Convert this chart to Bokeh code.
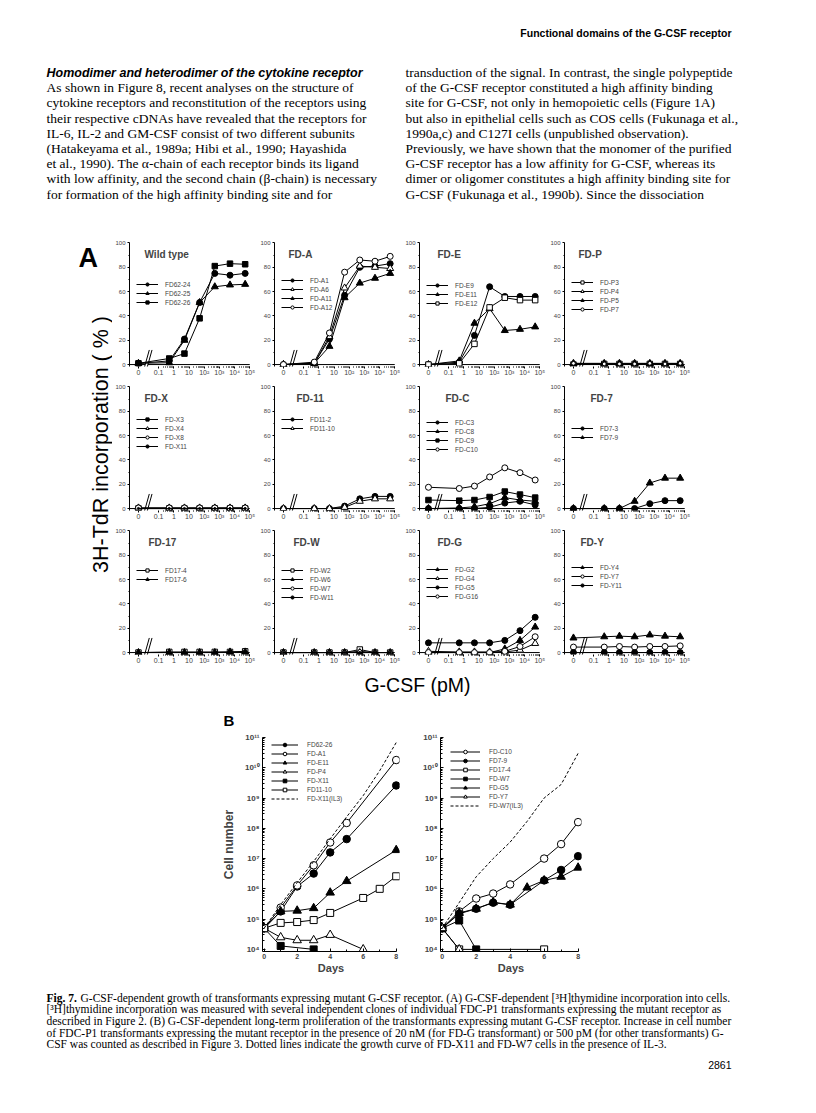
import math
from bokeh.plotting import figure
from bokeh.models import (Range1d, FixedTicker, Legend, LegendItem, Label, Spacer,
                          CustomJSTickFormatter)
from bokeh.layouts import column, row
from bokeh.core.properties import value
from bokeh.embed import file_html
from bokeh.resources import INLINE

SANS = "Liberation Sans"
SERIF = "Liberation Serif"

# ------------------------------------------------------------------ panel A data
CONC_PM = [0, 0.5, 5, 50, 500, 5000, 50000]
X_TICK_CONC = [0, 0.1, 1, 10, 100, 1000, 10000, 100000]
X_TICK_LABELS = ["0", "0.1", "1", "10", "10²", "10³", "10⁴", "10⁵"]
Y_TICKS_A = [0, 20, 40, 60, 80, 100]

WT_62_24 = [1, 3, 21, 51, 75, 73.5, 75]
WT_62_25 = [1, 1.5, 20, 51, 64, 65.5, 66]
WT_62_26 = [1, 5, 9, 38, 81, 83, 82.5]

A_A1 = [0, 1, 21, 57, 80, 81, 83]
A_A6 = [0, 1, 23, 63, 81, 80, 79]
A_A11 = [0, 1, 15, 55, 67, 71, 75]
A_A12 = [0, 2, 26, 76, 86, 85, 89]

E_E9 = [0, 2, 24, 64, 56, 56, 56]
E_E11 = [0, 3, 34, 46, 28, 29, 31]
E_E12 = [0, 1, 17, 47, 55, 53, 53]

P_P3 = [0, 0.5, 0.5, 0.5, 0.5, 0.5, 0.5]
P_P4 = [1, 1, 1, 1, 1, 1, 1]
P_P5 = [0.5, 0.5, 0.5, 0.5, 0.5, 0.5, 0.5]
P_P7 = [1, 0.5, 0.5, 0.5, 1, 0.5, 1]

X_X3 = [0, 0, 0, 0, 0, 0, 0]
X_X4 = [0.5, 0.5, 0.5, 0.5, 0.5, 0.5, 0.5]
X_X8 = [0.5, 0.5, 0.5, 0.5, 0.5, 0.5, 0.5]
X_X11 = [0, 0, 0, 0, 0, 0, 0]

D11_2 = [0, 0, 0, 2, 8, 10, 10]
D11_10 = [0, 0, 0, 1, 6, 8, 8]

C_C3 = [0, 0, 0, 1, 4.5, 6, 3]
C_C8 = [0, 0.5, 1.5, 4, 9, 7, 6]
C_C9 = [7, 6.5, 7, 9.5, 14, 11.5, 9]
C_C10 = [17.5, 16.5, 18.5, 26, 33.5, 29.5, 23.5]

D7_3 = [0, 0, 0, 0, 4, 6.5, 6.5]
D7_9 = [0, 0, 0, 6, 21, 25, 25]

D17_4 = [0, 0.5, 0.5, 0.5, 0.5, 0.5, 1]
D17_6 = [0, 0, 0, 0, 0, 0.5, 0.5]

W_W2 = [0, 0, 0, 0, 2.5, 0, 0]
W_W6 = [0, 0, 0, 0, 0, 0, 0]
W_W7 = [0, 0, 0, 0, 1, 0, 0]
W_W11 = [0, 0, 0, 0, 0, 0, 0]

G_G2 = [0, 0, 0, 0, 3, 10, 21]
G_G4 = [1, 0.5, 0.5, 0.5, 0.5, 2, 7.5]
G_G5 = [8, 8, 8, 8, 10, 18, 29]
G_G16 = [0, 0, 0, 0, 1, 5, 13]

Y_Y4 = [12, 13, 13.5, 13, 14.5, 13.5, 13]
Y_Y7 = [4.5, 4.5, 5, 4.5, 5, 5, 5.5]
Y_Y11 = [0, 0, 0, 0, 0, 0, 0]

PANELS_A = [
    ("Wild type", [("FD62-24", "fc", WT_62_24), ("FD62-25", "ft", WT_62_25), ("FD62-26", "fs", WT_62_26)]),
    ("FD-A", [("FD-A1", "fc", A_A1), ("FD-A6", "ot", A_A6), ("FD-A11", "ft", A_A11), ("FD-A12", "oc", A_A12)]),
    ("FD-E", [("FD-E9", "fc", E_E9), ("FD-E11", "ft", E_E11), ("FD-E12", "os", E_E12)]),
    ("FD-P", [("FD-P3", "os", P_P3), ("FD-P4", "ot", P_P4), ("FD-P5", "ft", P_P5), ("FD-P7", "sc", P_P7)]),
    ("FD-X", [("FD-X3", "fs", X_X3), ("FD-X4", "ot", X_X4), ("FD-X8", "oc", X_X8), ("FD-X11", "dt", X_X11)]),
    ("FD-11", [("FD11-2", "fc", D11_2), ("FD11-10", "ot", D11_10)]),
    ("FD-C", [("FD-C3", "fc", C_C3), ("FD-C8", "ft", C_C8), ("FD-C9", "fs", C_C9), ("FD-C10", "oc", C_C10)]),
    ("FD-7", [("FD7-3", "fc", D7_3), ("FD7-9", "ft", D7_9)]),
    ("FD-17", [("FD17-4", "os", D17_4), ("FD17-6", "ft", D17_6)]),
    ("FD-W", [("FD-W2", "os", W_W2), ("FD-W6", "ft", W_W6), ("FD-W7", "sc", W_W7), ("FD-W11", "dt", W_W11)]),
    ("FD-G", [("FD-G2", "ft", G_G2), ("FD-G4", "ot", G_G4), ("FD-G5", "fc", G_G5), ("FD-G16", "oc", G_G16)]),
    ("FD-Y", [("FD-Y4", "ft", Y_Y4), ("FD-Y7", "oc", Y_Y7), ("FD-Y11", "fc", Y_Y11)]),
]

# ------------------------------------------------------------------ panel B data
B_TICK_DAYS = [0, 2, 4, 6, 8]
B_TICK_VALUES = [1e4, 1e5, 1e6, 1e7, 1e8, 1e9, 1e10, 1e11]
B_TICK_LABELS = ["10⁴", "10⁵", "10⁶", "10⁷", "10⁸", "10⁹", "10¹⁰", "10¹¹"]

B1_DAYS_62_26 = [0, 1, 2, 3, 4, 5, 8]
B1_62_26 = [5e4, 1.8e5, 1.2e6, 3.2e6, 1.6e7, 4.4e7, 2.6e9]
B1_DAYS_A1 = [0, 1, 2, 3, 4, 5, 8]
B1_A1 = [5e4, 2.4e5, 1.3e6, 6e6, 3.4e7, 1.5e8, 1.8e10]
B1_DAYS_E11 = [0, 1, 2, 3, 4, 5, 8]
B1_E11 = [5e4, 1.8e5, 1.9e5, 2.3e5, 7.5e5, 1.8e6, 1.9e7]
B1_DAYS_P4 = [0, 1, 2, 3, 4, 6]
B1_P4 = [5e4, 2.5e4, 2e4, 2e4, 3e4, 1e4]
B1_DAYS_X11 = [0, 1, 3]
B1_X11 = [5e4, 1.3e4, 1e4]
B1_DAYS_11_10 = [0, 1, 2, 3, 4, 6, 7, 8]
B1_11_10 = [5e4, 7.5e4, 8e4, 9.3e4, 1.6e5, 5e5, 1e6, 2.6e6]
B1_DAYS_IL3 = [0, 1, 2, 3, 4, 5, 6, 7, 8]
B1_X11_IL3 = [5e4, 3e5, 1.6e6, 8e6, 4.5e7, 2.4e8, 1.2e9, 8e9, 6.8e10]

B2_DAYS_C10 = [0, 1, 2, 3, 4, 6, 7, 8]
B2_C10 = [5e4, 1.8e5, 4.8e5, 7e5, 1.4e6, 1e7, 3e7, 1.6e8]
B2_DAYS_7_9 = [0, 1, 2, 3, 4, 6, 7, 8]
B2_7_9 = [5e4, 1.5e5, 2.2e5, 3.5e5, 3e5, 1.9e6, 4.2e6, 1.2e7]
B2_DAYS_17_4 = [0, 1, 6]
B2_17_4 = [5e4, 1e4, 1e4]
B2_DAYS_W7 = [0, 1, 2]
B2_W7 = [5e4, 9e4, 1e4]
B2_DAYS_G5 = [0, 1, 2, 3, 4, 5, 6, 7, 8]
B2_G5 = [5e4, 1.6e5, 2.2e5, 3.6e5, 3e5, 1.1e6, 1.9e6, 2.5e6, 5e6]
B2_DAYS_Y7 = [0, 1]
B2_Y7 = [5e4, 1e4]
B2_DAYS_IL3 = [0, 1, 2, 3, 4, 5, 6, 7, 8]
B2_W7_IL3 = [5e4, 3.5e5, 2.5e6, 1e7, 3.5e7, 1.7e8, 1e9, 2.8e9, 3e10]

PANELS_B = [
    [("FD62-26", "fc", B1_DAYS_62_26, B1_62_26), ("FD-A1", "oc", B1_DAYS_A1, B1_A1),
     ("FD-E11", "ft", B1_DAYS_E11, B1_E11), ("FD-P4", "ot", B1_DAYS_P4, B1_P4),
     ("FD-X11", "fs", B1_DAYS_X11, B1_X11), ("FD11-10", "os", B1_DAYS_11_10, B1_11_10),
     ("FD-X11(IL3)", "dash", B1_DAYS_IL3, B1_X11_IL3)],
    [("FD-C10", "oc", B2_DAYS_C10, B2_C10), ("FD7-9", "fc", B2_DAYS_7_9, B2_7_9),
     ("FD17-4", "os", B2_DAYS_17_4, B2_17_4), ("FD-W7", "fs", B2_DAYS_W7, B2_W7),
     ("FD-G5", "ft", B2_DAYS_G5, B2_G5), ("FD-Y7", "ot", B2_DAYS_Y7, B2_Y7),
     ("FD-W7(IL3)", "dash", B2_DAYS_IL3, B2_W7_IL3)],
]

# ------------------------------------------------------------------ texts
HEADER = "Functional domains of the G-CSF receptor"
LEFT_HEADING = "Homodimer and heterodimer of the cytokine receptor"
LEFT_LINES = [
    "As shown in Figure 8, recent analyses on the structure of",
    "cytokine receptors and reconstitution of the receptors using",
    "their respective cDNAs have revealed that the receptors for",
    "IL-6, IL-2 and GM-CSF consist of two different subunits",
    "(Hatakeyama et al., 1989a; Hibi et al., 1990; Hayashida",
    "et al., 1990). The α-chain of each receptor binds its ligand",
    "with low affinity, and the second chain (β-chain) is necessary",
    "for formation of the high affinity binding site and for",
]
RIGHT_LINES = [
    "transduction of the signal. In contrast, the single polypeptide",
    "of the G-CSF receptor constituted a high affinity binding",
    "site for G-CSF, not only in hemopoietic cells (Figure 1A)",
    "but also in epithelial cells such as COS cells (Fukunaga et al.,",
    "1990a,c) and C127I cells (unpublished observation).",
    "Previously, we have shown that the monomer of the purified",
    "G-CSF receptor has a low affinity for G-CSF, whereas its",
    "dimer or oligomer constitutes a high affinity binding site for",
    "G-CSF (Fukunaga et al., 1990b). Since the dissociation",
]
CAPTION_BOLD = "Fig. 7."
CAPTION_LINES = [
    "G-CSF-dependent growth of transformants expressing mutant G-CSF receptor. (A) G-CSF-dependent [³H]thymidine incorporation into cells.",
    "[³H]thymidine incorporation was measured with several independent clones of individual FDC-P1 transformants expressing the mutant receptor as",
    "described in Figure 2. (B) G-CSF-dependent long-term proliferation of the transformants expressing mutant G-CSF receptor. Increase in cell number",
    "of FDC-P1 transformants expressing the mutant receptor in the presence of 20 nM (for FD-G transformant) or 500 pM (for other transformants) G-",
    "CSF was counted as described in Figure 3. Dotted lines indicate the growth curve of FD-X11 and FD-W7 cells in the presence of IL-3.",
]
PAGE_NUMBER = "2861"
Y_LABEL_A = "3H-TdR incorporation ( % )"
X_LABEL_A = "G-CSF (pM)"

# ------------------------------------------------------------------ styles / layout
MK = {"fc": ("circle", "black", 6), "oc": ("circle", "white", 6),
      "ft": ("triangle", "black", 7), "ot": ("triangle", "white", 7),
      "fs": ("square", "black", 5.5), "os": ("square", "white", 5.5),
      "sc": ("circle", "white", 3.8), "dt": ("circle", "black", 2.3)}
MKB = {"fc": ("circle", "black", 7.5), "oc": ("circle", "white", 7.5),
       "ft": ("triangle", "black", 8.5), "ot": ("triangle", "white", 8.5),
       "fs": ("square", "black", 7), "os": ("square", "white", 7)}

ZERO_POS = -2.33          # x position of the "0" concentration left of the axis break
X_LO, X_HI = -2.92, 5.05
Y_LO, Y_HI = -1.6, 100.4
BREAK_L, BREAK_R = -1.886, -1.706
LEG_Y = [60, 55, 59, 53, 60, 78, 57, 69, 71, 53, 54, 65]
TITLE_DX = [15, 14, 18, 14, 15, 22, 26, 26, 19, 19, 18, 16]
B_X_LO, B_X_HI = -0.1, 8.2
B_Y_LO, B_Y_HI = 10 ** 3.93, 1e11


def xpos(c):
    return ZERO_POS if c == 0 else math.log10(c)


def tick_fmt(positions, labels):
    return CustomJSTickFormatter(
        args=dict(pos=list(positions), lab=list(labels)),
        code="for (let i = 0; i < pos.length; i++) {"
             " if (Math.abs(tick - pos[i]) <= 1e-6 * Math.max(1, Math.abs(pos[i]))) { return lab[i]; } }"
             " return '';")


def clean(p):
    p.outline_line_color = None
    p.xgrid.visible = False
    p.ygrid.visible = False
    p.background_fill_color = "white"
    p.border_fill_color = "white"


XT_POS = [xpos(c) for c in X_TICK_CONC]
XT_MINOR = [math.log10(k * 10.0 ** d) for d in range(-1, 5) for k in range(2, 10)]


def make_a_panel(idx):
    title, series = PANELS_A[idx]
    p = figure(width=145, height=144, x_range=Range1d(X_LO, X_HI), y_range=Range1d(Y_LO, Y_HI),
               output_backend="svg", toolbar_location=None, tools="",
               min_border_left=13, min_border_right=7, min_border_top=7, min_border_bottom=13)
    clean(p)
    xa = p.xaxis[0]
    xa.ticker = FixedTicker(ticks=XT_POS, minor_ticks=XT_MINOR)
    xa.formatter = tick_fmt(XT_POS, X_TICK_LABELS)
    xa.axis_line_color = None
    xa.major_tick_in, xa.major_tick_out = 0, 2
    xa.minor_tick_in, xa.minor_tick_out = 0, 1
    xa.major_label_text_font = SANS
    xa.major_label_text_font_size = "7px"
    xa.major_label_standoff = 0
    ya = p.yaxis[0]
    ya.ticker = FixedTicker(ticks=Y_TICKS_A, minor_ticks=[10, 30, 50, 70, 90])
    ya.bounds = (Y_LO, 100)
    ya.major_tick_in, ya.major_tick_out = 0, 2
    ya.minor_tick_in, ya.minor_tick_out = 0, 1
    ya.major_label_text_font = SANS
    ya.major_label_text_font_size = "6px"
    ya.major_label_standoff = 2
    # axis baseline with a break
    p.segment(x0=[X_LO, BREAK_R], y0=[0, 0], x1=[BREAK_L, 5.0], y1=[0, 0],
              line_color="black", line_width=1)
    p.segment(x0=[BREAK_L - 0.044, BREAK_R - 0.044], y0=[-2, -2],
              x1=[BREAK_L + 0.27, BREAK_R + 0.27], y1=[12, 12], line_color="black", line_width=1)
    xs = [xpos(c) for c in CONC_PM]
    items = []
    for name, style, vals in series:
        mk, fill, size = MK[style]
        rl = p.line(xs, vals, line_color="black", line_width=1)
        rs = p.scatter(xs, vals, marker=mk, size=size, fill_color=fill,
                       line_color="black", line_width=1)
        items.append(LegendItem(label=name, renderers=[rl, rs]))
    leg = Legend(items=items, location=(7, LEG_Y[idx]), background_fill_alpha=0,
                 border_line_alpha=0, label_text_font=SANS, label_text_font_size="6.5px",
                 glyph_width=22, glyph_height=8, label_height=8, label_standoff=7,
                 spacing=1, padding=0, margin=0)
    p.add_layout(leg)
    p.add_layout(Label(x=TITLE_DX[idx], y=112, x_units="screen", y_units="screen",
                       text=title, text_font=SANS, text_font_style="bold",
                       text_font_size="10px", text_baseline="middle"))
    return p


def make_b_panel(idx):
    series = PANELS_B[idx]
    left = 40 if idx == 0 else 30
    p = figure(width=left + 141 + 8, height=248, x_range=Range1d(B_X_LO, B_X_HI),
               y_range=Range1d(B_Y_LO, B_Y_HI), y_axis_type="log",
               output_backend="svg", toolbar_location=None, tools="",
               min_border_left=left, min_border_right=8, min_border_top=8, min_border_bottom=26)
    clean(p)
    xa = p.xaxis[0]
    xa.ticker = FixedTicker(ticks=B_TICK_DAYS, minor_ticks=[1, 3, 5, 7])
    xa.bounds = (B_X_LO, 8)
    xa.major_tick_in, xa.major_tick_out = 3, 0
    xa.minor_tick_in, xa.minor_tick_out = 2, 0
    xa.major_label_text_font = SANS
    xa.major_label_text_font_style = "bold"
    xa.major_label_text_font_size = "7px"
    xa.major_label_standoff = 2
    xa.axis_label = "Days"
    xa.axis_label_text_font = SANS
    xa.axis_label_text_font_style = "bold"
    xa.axis_label_text_font_size = "11px"
    xa.axis_label_standoff = 0
    ya = p.yaxis[0]
    ya.ticker = FixedTicker(ticks=B_TICK_VALUES,
                            minor_ticks=[k * 10.0 ** d for d in range(4, 11) for k in range(2, 10)])
    ya.formatter = tick_fmt(B_TICK_VALUES, B_TICK_LABELS)
    ya.bounds = (B_Y_LO, 1e11)
    ya.major_tick_in, ya.major_tick_out = 3, 0
    ya.minor_tick_in, ya.minor_tick_out = 2, 0
    ya.major_label_text_font = SANS
    ya.major_label_text_font_style = "bold"
    ya.major_label_text_font_size = "8px"
    ya.major_label_standoff = 3
    if idx == 0:
        ya.axis_label = "Cell number"
        ya.axis_label_text_font = SANS
        ya.axis_label_text_font_style = "bold"
        ya.axis_label_text_font_size = "12px"
        ya.axis_label_standoff = 6
    items = []
    for name, style, days, vals in series:
        if style == "dash":
            rl = p.line(days, vals, line_color="black", line_width=1, line_dash="3 2")
            items.append(LegendItem(label=name, renderers=[rl]))
            continue
        mk, fill, size = MKB[style]
        rl = p.line(days, vals, line_color="black", line_width=1)
        rs = p.scatter(days, vals, marker=mk, size=size, fill_color=fill,
                       line_color="black", line_width=1)
        items.append(LegendItem(label=name, renderers=[rl, rs]))
    leg = Legend(items=items, location=((9, 148) if idx == 0 else (10, 141)),
                 background_fill_alpha=0, border_line_alpha=0, label_text_font=SANS,
                 label_text_font_size="6.5px", glyph_width=(27 if idx == 0 else 30), glyph_height=9,
                 label_height=8, label_standoff=9, spacing=0, padding=0, margin=0)
    p.add_layout(leg)
    return p


def text_fig(w, h):
    p = figure(width=w, height=h, x_range=Range1d(0, w), y_range=Range1d(h, 0),
               output_backend="svg", toolbar_location=None, tools="", min_border=0,
               x_axis_location=None, y_axis_location=None)
    clean(p)
    return p


# ---- top text block (page y 8..243)
top = text_fig(800, 235)
OX, OY = 8, 8
top.text(x=[739 - OX], y=[40 - OY], text=[HEADER], text_font=value(SANS), text_font_style="bold",
         text_font_size="10.5px", text_align="right", text_baseline="middle")
top.text(x=[54 - OX], y=[80 - OY], text=[LEFT_HEADING], text_font=value(SANS),
         text_font_style="bold italic", text_font_size="12.5px", text_baseline="middle")
top.text(x=[54 - OX] * len(LEFT_LINES), y=[80 + 15.2 * (i + 1) - OY for i in range(len(LEFT_LINES))],
         text=LEFT_LINES, text_font=value(SERIF), text_font_size="13.5px", text_baseline="middle")
top.text(x=[413 - OX] * len(RIGHT_LINES), y=[80 + 15.2 * i - OY for i in range(len(RIGHT_LINES))],
         text=RIGHT_LINES, text_font=value(SERIF), text_font_size="13.5px", text_baseline="middle")

# ---- left strip of panel A (page x 8..120, y 243..675)
lfig = text_fig(112, 432)
LX, LY = 8, 243
lfig.text(x=[86 - LX], y=[265 - LY], text=["A"], text_font=value(SANS), text_font_style="bold",
          text_font_size="27px", text_baseline="alphabetic")
lfig.text(x=[108.5 - LX], y=[452 - LY], text=[Y_LABEL_A], text_font=value(SANS),
          text_font_size="21.5px", text_align="center", text_baseline="alphabetic", angle=math.pi / 2)

a_rows = []
for r in range(3):
    a_rows.append(row(*[make_a_panel(r * 4 + c) for c in range(4)]))
mid = row(lfig, column(*a_rows), Spacer(width=108, height=432))

# ---- band with x label and "B" (page y 675..737)
band = text_fig(800, 62)
BY = 675
band.text(x=[425 - OX], y=[692 - BY], text=[X_LABEL_A], text_font=value(SANS),
          text_font_size="19.5px", text_align="center", text_baseline="middle")
band.text(x=[231 - OX], y=[728 - BY], text=["B"], text_font=value(SANS), text_font_style="bold",
          text_font_size="15px", text_baseline="middle")

b1 = make_b_panel(0)
b2 = make_b_panel(1)
brow = row(Spacer(width=218, height=248), b1, Spacer(width=3, height=248), b2,
           Spacer(width=211, height=248))

# ---- caption (page y 985..1105)
cap = text_fig(800, 120)
CY = 985
cap_y = [1005 + 11.7 * i - CY for i in range(len(CAPTION_LINES))]
cap.text(x=[54 - OX], y=[cap_y[0]], text=[CAPTION_BOLD], text_font=value(SERIF),
         text_font_style="bold", text_font_size="11.5px", text_baseline="middle")
cap.text(x=[54 - OX + 34] + [54 - OX] * (len(CAPTION_LINES) - 1), y=cap_y, text=CAPTION_LINES,
         text_font=value(SERIF), text_font_size="11.5px", text_baseline="middle")
cap.text(x=[739 - OX], y=[1072 - CY], text=[PAGE_NUMBER], text_font=value(SANS),
         text_font_size="10.5px", text_align="right", text_baseline="middle")

page = column(top, mid, band, brow, cap)

with open("out.html", "w") as f:
    f.write(file_html(page, INLINE))
